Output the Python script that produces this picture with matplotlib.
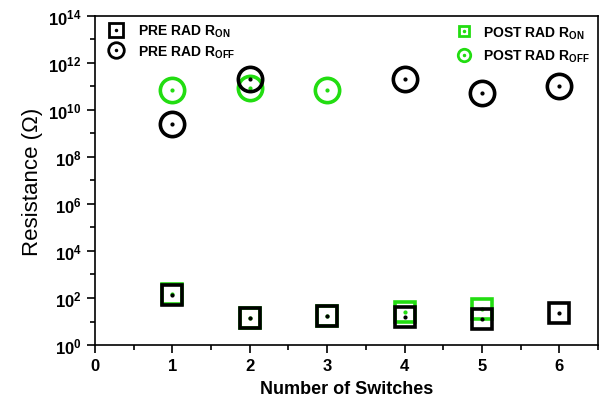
import matplotlib
matplotlib.use("Agg")
import matplotlib.pyplot as plt
from matplotlib.ticker import FixedLocator, MultipleLocator, LogFormatterSciNotation, NullFormatter
from matplotlib.lines import Line2D

plt.rcParams['font.family'] = ['Liberation Sans', 'DejaVu Sans']
plt.rcParams['mathtext.default'] = 'regular'

x_pre = [1, 2, 3, 4, 5, 6]
pre_ron = [135, 14, 17, 15, 13, 23]
pre_roff = [2.5e9, 2.0e11, None, 2.0e11, 5.0e10, 1.0e11]
x_post = [1, 2, 3, 4, 5]
post_ron = [150, 14, 18, 25, 34]
x_post_off = [1, 2, 3]
post_roff = [7.0e10, 8.7e10, 7.0e10]

green = '#22dd11'

fig = plt.figure(figsize=(6, 4.1), dpi=100)
ax = fig.add_axes([0.158, 0.156, 0.839, 0.803])

ms_sq = 14
ms_ci = 17.5
mew = 2.6

xr = [x for x, v in zip(x_pre, pre_roff) if v is not None]
vr = [v for v in pre_roff if v is not None]

ax.plot(x_post, post_ron, 's', mfc='none', mec=green, ms=ms_sq, mew=mew, zorder=2)
ax.plot(x_post, post_ron, '.', color=green, ms=4, zorder=2)
ax.plot(x_post_off, post_roff, 'o', mfc='none', mec=green, ms=ms_ci, mew=mew, zorder=2)
ax.plot(x_post_off, post_roff, '.', color=green, ms=4, zorder=2)
ax.plot(x_pre, pre_ron, 's', mfc='none', mec='black', ms=ms_sq, mew=mew, zorder=3)
ax.plot(x_pre, pre_ron, '.', color='black', ms=4, zorder=3)
ax.plot(xr, vr, 'o', mfc='none', mec='black', ms=ms_ci, mew=mew, zorder=3)
ax.plot(xr, vr, '.', color='black', ms=4, zorder=3)

ax.set_yscale('log')
ax.set_ylim(1, 1e14)
ax.set_xlim(0, 6.5)
ax.yaxis.set_major_locator(FixedLocator([10.0**k for k in range(0, 15, 2)]))
ax.yaxis.set_minor_locator(FixedLocator([10.0**k for k in range(1, 14, 2)]))
ax.yaxis.set_major_formatter(LogFormatterSciNotation())
ax.yaxis.set_minor_formatter(NullFormatter())
ax.xaxis.set_major_locator(MultipleLocator(1))
ax.xaxis.set_minor_locator(MultipleLocator(0.5))
ax.tick_params(which='both', direction='out', width=1.2, top=False, right=False)
ax.tick_params(which='major', length=6, labelsize=12)
ax.tick_params(which='minor', length=3.5)
for lab in ax.get_xticklabels() + ax.get_yticklabels():
    lab.set_fontweight('bold')
for s in ax.spines.values():
    s.set_linewidth(1.2)

ax.set_xlabel('Number of Switches', fontsize=13, fontweight='bold', labelpad=5)
ax.set_ylabel('Resistance (\u03a9)', fontsize=16, labelpad=4)

def h(color, m, ms):
    return (Line2D([], [], ls='none', marker=m, mfc='none', mec=color, ms=ms * 0.7, mew=2),
            Line2D([], [], ls='none', marker='.', color=color, ms=3))

leg1 = ax.legend([h('black', 's', ms_sq), h('black', 'o', 16)],
                 ['PRE RAD R$_{ON}$', 'PRE RAD R$_{OFF}$'],
                 loc='upper left', frameon=False, prop={'weight': 'bold', 'size': 10},
                 handletextpad=0.6, borderaxespad=0.1, labelspacing=0.3)
ax.add_artist(leg1)
ax.legend([h(green, 's', ms_sq * 0.8), h(green, 'o', 16 * 0.8)],
          ['POST RAD R$_{ON}$', 'POST RAD R$_{OFF}$'],
          loc='upper right', frameon=False, prop={'weight': 'bold', 'size': 10},
          handletextpad=0.4, borderaxespad=0.2, labelspacing=0.5)

fig.savefig('out.png', dpi=100)
